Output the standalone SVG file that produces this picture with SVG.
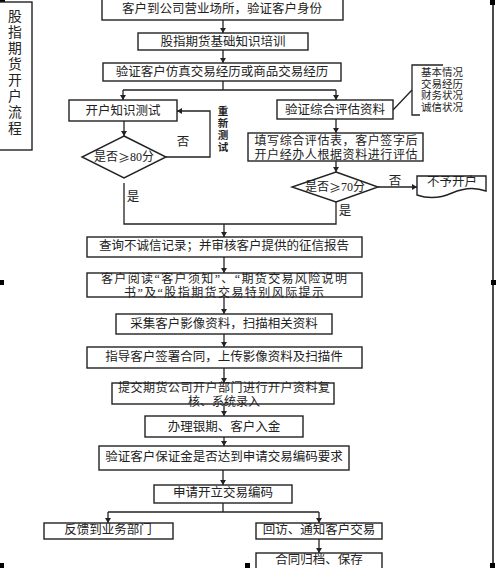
<svg xmlns="http://www.w3.org/2000/svg" width="501" height="568" viewBox="0 0 501 568">
<style>
.box{fill:#fff;stroke:#222;stroke-width:1.4}
.t{font-family:"Liberation Serif","Noto Sans CJK SC",serif;font-size:12.5px;fill:#222;text-anchor:middle;dominant-baseline:central}
.m{font-size:12px}
.s{font-size:10.5px}
.b{font-weight:bold;font-size:10.5px}
.ti{font-size:13.8px}
.g{font-family:"Noto Sans CJK SC",sans-serif}
.c{fill:none;stroke:#222;stroke-width:1.3}
.h{fill:#000}
</style>
<defs>
<marker id="ah" markerWidth="6" markerHeight="6" refX="5" refY="3" orient="auto" markerUnits="userSpaceOnUse">
<path d="M0,0 L5,3 L0,6 Z" fill="#222"/>
</marker>
</defs>
<rect width="501" height="568" fill="#fff"/>

<g id="frame">
<line x1="493" y1="2" x2="493" y2="565" stroke="#111" stroke-width="1.5"/>
<rect class="h" x="0" y="0" width="5" height="5"/>
<rect class="h" x="223" y="0" width="6" height="6"/>
<rect class="h" x="490" y="0" width="5" height="5"/>
<rect class="h" x="0" y="280" width="4" height="5"/>
<rect class="h" x="491" y="280" width="5" height="5"/>
<rect class="h" x="0" y="563" width="4" height="5"/>
<rect class="h" x="245" y="563" width="5" height="5"/>
<rect class="h" x="490" y="563" width="5" height="5"/>
</g>

<g id="title">
<rect class="box" x="-2" y="2" width="34" height="148"/>
<text class="t ti"><tspan x="15" y="16">股</tspan><tspan x="15" y="32">指</tspan><tspan x="15" y="48">期</tspan><tspan x="15" y="64">货</tspan><tspan x="15" y="80">开</tspan><tspan x="15" y="96">户</tspan><tspan x="15" y="112">流</tspan><tspan x="15" y="128">程</tspan></text>
</g>

<g id="connectors">
<path class="c" d="M223,20 V33" marker-end="url(#ah)"/>
<path class="c" d="M223,50 V63" marker-end="url(#ah)"/>
<path class="c" d="M223,81 V90 M123,90 H336"/>
<path class="c" d="M123,90 V100" marker-end="url(#ah)"/>
<path class="c" d="M336,90 V100" marker-end="url(#ah)"/>
<path class="c" d="M124,121 V136" marker-end="url(#ah)"/>
<path class="c" d="M166,157 H210 V111 H177" marker-end="url(#ah)"/>
<path class="c" d="M124,183 V224 H336 V202"/>
<path class="c" d="M224,224 V237" marker-end="url(#ah)"/>
<path class="c" d="M336,119 V133" marker-end="url(#ah)"/>
<path class="c" d="M336,161 V172" marker-end="url(#ah)"/>
<path class="c" d="M378,187 H417" marker-end="url(#ah)"/>
<path class="c" d="M393,110 L412,90"/>
<path class="c" d="M224,257 V273" marker-end="url(#ah)"/>
<path class="c" d="M224,297 V314" marker-end="url(#ah)"/>
<path class="c" d="M224,334 V347" marker-end="url(#ah)"/>
<path class="c" d="M224,368 V383" marker-end="url(#ah)"/>
<path class="c" d="M224,404 V416" marker-end="url(#ah)"/>
<path class="c" d="M224,437 V446" marker-end="url(#ah)"/>
<path class="c" d="M223,470 V485" marker-end="url(#ah)"/>
<path class="c" d="M223,503 V512 M108,512 H319"/>
<path class="c" d="M108,512 V523" marker-end="url(#ah)"/>
<path class="c" d="M319,512 V523" marker-end="url(#ah)"/>
<path class="c" d="M319,539 V553" marker-end="url(#ah)"/>
<text class="t" x="183" y="142">否</text>
<text class="t" x="133" y="197">是</text>
<text class="t" x="395" y="181">否</text>
<text class="t" x="345" y="211">是</text>
<text class="t b"><tspan x="223" y="111">重</tspan><tspan x="223" y="123">新</tspan><tspan x="223" y="135">测</tspan><tspan x="223" y="147">试</tspan></text>
</g>

<g id="n1"><rect class="box" x="102" y="-3" width="241" height="23"/><text class="t" x="222" y="9">客户到公司营业场所，验证客户身份</text></g>
<g id="n2"><rect class="box" x="138" y="33" width="170" height="17"/><text class="t" x="223" y="42">股指期货基础知识培训</text></g>
<g id="n3"><rect class="box" x="103" y="63" width="238" height="18"/><text class="t" x="222" y="72">验证客户仿真交易经历或商品交易经历</text></g>
<g id="n4"><rect class="box" x="69" y="100" width="108" height="21"/><text class="t" x="123" y="111">开户知识测试</text></g>
<g id="n5"><path class="box" d="M124,136 L166,157 L124,178 L82,157 Z"/><text class="t m" x="124" y="157">是否<tspan class="g">≥</tspan>80分</text></g>
<g id="n6"><rect class="box" x="277" y="100" width="116" height="19"/><text class="t" x="335" y="110">验证综合评估资料</text></g>
<g id="n7"><path class="c" d="M443,65 H412 V115 H420"/>
<text class="t s"><tspan x="442" y="72">基本情况</tspan><tspan x="442" y="83.7">交易经历</tspan><tspan x="442" y="95.4">财务状况</tspan><tspan x="442" y="107.1">诚信状况</tspan></text></g>
<g id="n8"><rect class="box" x="248" y="133" width="175" height="28"/><text class="t m"><tspan x="336" y="140.5" textLength="163" lengthAdjust="spacing">填写综合评估表，客户签字后</tspan><tspan x="336" y="154.5" textLength="163" lengthAdjust="spacing">开户经办人根据资料进行评估</tspan></text></g>
<g id="n9"><path class="box" d="M336,172 L378,187 L336,202 L292,187 Z"/><text class="t m" x="335" y="187">是否<tspan class="g">≥</tspan>70分</text></g>
<g id="n10"><path class="box" d="M417,176 H486 V191 Q470,185 452,193 Q434,201 417,195 Z"/><text class="t" x="452" y="182">不予开户</text></g>
<g id="n11"><rect class="box" x="87" y="237" width="275" height="20"/><text class="t" x="224" y="246">查询不诚信记录；并审核客户提供的征信报告</text></g>
<g id="n12"><rect class="box" x="87" y="273" width="275" height="24"/><text class="t m"><tspan x="224" y="278.5" textLength="246" lengthAdjust="spacing">客户阅读“客户须知”、“期货交易风险说明</tspan><tspan x="224" y="292.5" textLength="200" lengthAdjust="spacing">书”及“股指期货交易特别风际提示</tspan></text></g>
<g id="n13"><rect class="box" x="116" y="314" width="216" height="20"/><text class="t" x="224" y="324">采集客户影像资料，扫描相关资料</text></g>
<g id="n14"><rect class="box" x="87" y="347" width="275" height="21"/><text class="t" x="224" y="357">指导客户签署合同，上传影像资料及扫描件</text></g>
<g id="n15"><rect class="box" x="112" y="383" width="222" height="21"/><text class="t m"><tspan x="224" y="387.5" textLength="212" lengthAdjust="spacing">提交期货公司开户部门进行开户资料复</tspan><tspan x="224" y="401.5">核、系统录入</tspan></text></g>
<g id="n16"><rect class="box" x="145" y="416" width="158" height="21"/><text class="t" x="224" y="427">办理银期、客户入金</text></g>
<g id="n17"><rect class="box" x="99" y="446" width="250" height="24"/><text class="t" x="224" y="457">验证客户保证金是否达到申请交易编码要求</text></g>
<g id="n18"><rect class="box" x="154" y="485" width="138" height="18"/><text class="t" x="223" y="493">申请开立交易编码</text></g>
<g id="n19"><rect class="box" x="44" y="523" width="129" height="16"/><text class="t" x="108" y="530">反馈到业务部门</text></g>
<g id="n20"><rect class="box" x="256" y="523" width="126" height="16"/><text class="t" x="319" y="530">回访、通知客户交易</text></g>
<g id="n21"><rect class="box" x="256" y="553" width="126" height="18"/><text class="t" x="319" y="560">合同归档、保存</text></g>
</svg>
